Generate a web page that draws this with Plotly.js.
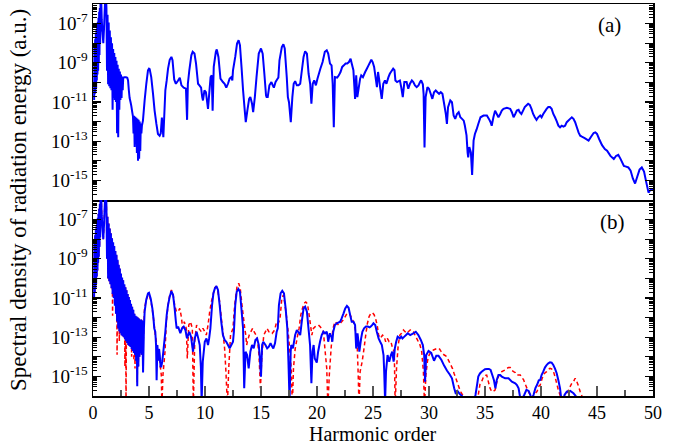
<!DOCTYPE html>
<html><head><meta charset="utf-8">
<script src="https://cdn.plot.ly/plotly-3.0.1.min.js"></script>
<style>html,body{margin:0;padding:0;background:#fff}#chart{width:679px;height:446px}</style>
</head><body><div id="chart"></div>
<script>
// Values: [harmonic order, log10(spectral density in a.u.)]
const panelA = [[0.10,-10.9],[0.13,-8.0],[0.16,-10.6],[0.19,-7.8],[0.22,-10.5],[0.25,-7.5],[0.28,-10.3],[0.31,-7.3],[0.34,-9.9],[0.37,-7.1],[0.40,-9.6],[0.43,-6.9],[0.46,-9.4],[0.49,-6.7],[0.52,-9.0],[0.55,-6.4],[0.58,-8.6],[0.61,-6.2],[0.64,-8.0],[0.67,-5.9],[0.70,-7.4],[0.73,-5.7],[0.78,-6.8],[0.85,-7.5],[0.92,-8.0],[0.98,-7.3],[1.04,-6.4],[1.10,-5.6],[1.16,-5.6],
[1.20,-6.2],[1.25,-9.4],[1.30,-6.55],[1.35,-10.1],[1.40,-6.95],[1.45,-10.2],[1.50,-7.35],[1.55,-10.3],[1.60,-7.7],[1.65,-10.4],[1.70,-8.0],[1.75,-11.4],[1.80,-8.3],[1.85,-10.8],[1.90,-8.5],[1.95,-10.9],[2.00,-8.7],[2.05,-11.0],[2.10,-8.9],[2.15,-12.6],[2.20,-9.1],[2.25,-12.8],[2.30,-9.3],[2.35,-11.4],[2.40,-9.45],[2.45,-10.9],[2.50,-9.6],[2.55,-10.8],[2.60,-9.7],[2.65,-10.4],[2.70,-9.76],
[2.8,-9.74],[2.95,-9.74],[3.06,-9.76],[3.13,-9.9],[3.2,-10.4],[3.27,-10.8],[3.35,-11.0],[3.42,-11.2],[3.5,-11.5],[3.57,-11.75],
[3.62,-12.6],[3.67,-11.7],[3.72,-13.3],[3.77,-11.75],[3.82,-12.9],[3.87,-11.8],[3.92,-13.6],[3.97,-11.85],[4.02,-14.0],[4.07,-11.9],[4.12,-13.9],[4.17,-12.0],[4.22,-13.5],[4.27,-12.1],[4.32,-12.6],[4.37,-12.2],
[4.46,-11.95],[4.61,-10.92],[4.76,-10.07],[4.91,-9.38],[5.0,-9.3],[5.06,-9.32],[5.2,-9.73],[5.36,-10.58],[5.5,-11.44],[5.66,-12.12],[5.8,-12.63],[5.95,-12.72],[6.05,-12.6],[6.15,-11.8],[6.28,-12.8],[6.46,-10.4],[6.58,-9.9],[6.7,-9.3],[6.85,-8.85],[7.0,-8.7],[7.1,-8.87],[7.25,-9.85],[7.4,-10.07],[7.6,-9.9],[7.75,-9.76],[7.9,-10.15],[8.1,-10.27],[8.3,-10.32],[8.4,-11.91],[8.47,-10.07],[8.6,-9.38],[8.78,-8.62],[8.9,-8.44],[9.06,-8.53],[9.2,-9.04],[9.38,-10.07],[9.5,-10.15],[9.65,-10.27],[9.75,-10.75],[9.82,-10.92],[9.95,-10.41],[10.08,-10.5],[10.27,-11.35],[10.4,-10.41],[10.5,-9.73],[10.6,-9.64],[10.68,-11.44],[10.78,-9.21],[10.97,-8.44],[11.05,-8.32],[11.2,-8.7],[11.38,-9.81],[11.6,-9.98],[11.75,-10.07],[11.9,-10.27],[12.05,-10.07],[12.2,-9.81],[12.36,-9.73],[12.44,-9.9],[12.5,-9.38],[12.7,-8.7],[12.86,-8.02],[13.0,-7.85],[13.12,-8.1],[13.26,-9.21],[13.4,-10.41],[13.55,-11.44],[13.64,-12.03],[13.78,-11.44],[13.94,-10.84],[14.05,-10.75],[14.2,-11.09],[14.3,-11.52],[14.45,-10.75],[14.6,-9.73],[14.8,-8.53],[15.0,-8.27],[15.15,-8.53],[15.3,-9.56],[15.45,-10.67],[15.5,-10.75],[15.6,-10.75],[15.75,-10.15],[15.93,-9.98],[16.05,-10.15],[16.15,-10.27],[16.3,-9.98],[16.45,-9.84],[16.55,-9.76],[16.65,-8.87],[16.86,-8.2],[17.0,-8.05],[17.12,-8.27],[17.3,-9.73],[17.4,-10.75],[17.5,-11.01],[17.66,-12.03],[17.8,-10.75],[17.92,-10.07],[18.05,-9.94],[18.2,-10.15],[18.35,-10.15],[18.5,-10.07],[18.65,-9.38],[18.8,-8.7],[18.94,-8.41],[19.1,-8.53],[19.25,-9.56],[19.39,-10.07],[19.5,-11.09],[19.62,-10.07],[19.75,-9.9],[19.9,-10.15],[20.04,-9.81],[20.3,-9.3],[20.5,-8.96],[20.7,-8.44],[20.87,-8.36],[21.0,-8.53],[21.16,-9.04],[21.3,-9.13],[21.4,-10.07],[21.5,-12.29],[21.6,-9.73],[21.8,-9.76],[21.95,-9.64],[22.1,-9.47],[22.25,-9.21],[22.4,-9.13],[22.55,-9.04],[22.7,-9.04],[22.85,-8.96],[23.0,-8.79],[23.1,-9.04],[23.25,-9.38],[23.4,-10.84],[23.5,-9.64],[23.6,-10.75],[23.85,-9.81],[23.95,-9.64],[24.1,-9.73],[24.3,-9.47],[24.45,-9.3],[24.6,-9.13],[24.75,-8.96],[24.85,-8.84],[24.97,-8.96],[25.1,-9.21],[25.35,-10.24],[25.45,-9.47],[25.54,-9.81],[25.65,-10.32],[25.78,-10.84],[25.92,-10.07],[26.07,-9.9],[26.2,-10.07],[26.38,-9.73],[26.5,-9.56],[26.6,-9.47],[26.8,-9.3],[26.92,-9.38],[27.0,-9.9],[27.15,-9.98],[27.4,-9.9],[27.52,-10.24],[27.66,-10.75],[27.8,-9.98],[28.0,-9.98],[28.15,-10.32],[28.3,-10.07],[28.47,-9.9],[28.6,-9.98],[28.75,-10.15],[28.9,-10.24],[29.06,-10.15],[29.2,-9.98],[29.3,-9.9],[29.45,-10.1],[29.52,-10.6],[29.6,-13.32],[29.7,-10.75],[29.86,-10.24],[30.0,-10.32],[30.15,-10.58],[30.3,-10.84],[30.45,-10.5],[30.6,-10.41],[30.75,-10.5],[30.9,-10.58],[31.05,-10.5],[31.2,-10.58],[31.35,-11.09],[31.5,-11.61],[31.6,-12.12],[31.7,-11.26],[31.9,-10.92],[32.05,-11.01],[32.2,-11.69],[32.34,-11.86],[32.5,-11.61],[32.65,-11.52],[32.8,-11.78],[32.95,-11.86],[33.1,-11.95],[33.2,-12.2],[33.35,-12.7],[33.45,-13.6],[33.5,-13.83],[33.6,-13.3],[33.74,-13.57],[33.85,-14.72],[33.98,-12.97],[34.1,-12.63],[34.25,-12.4],[34.4,-12.12],[34.6,-11.78],[34.87,-11.69],[35.17,-11.69],[35.35,-11.86],[35.5,-12.03],[35.6,-12.21],[35.75,-11.78],[35.9,-11.44],[36.05,-11.61],[36.2,-11.78],[36.36,-11.61],[36.5,-11.44],[36.65,-11.35],[36.95,-11.3],[37.25,-11.35],[37.4,-11.52],[37.55,-11.78],[37.7,-11.61],[37.84,-11.44],[38.0,-11.4],[38.1,-11.52],[38.25,-11.61],[38.4,-11.44],[38.55,-11.26],[38.74,-11.15],[38.85,-11.09],[39.0,-11.15],[39.15,-11.35],[39.3,-11.61],[39.45,-11.78],[39.6,-11.91],[39.75,-11.78],[39.93,-11.69],[40.05,-11.78],[40.2,-11.61],[40.5,-11.35],[40.65,-11.26],[40.8,-11.26],[40.95,-11.35],[41.1,-11.61],[41.25,-11.78],[41.4,-11.98],[41.55,-12.21],[41.7,-12.29],[41.85,-12.21],[42.0,-12.26],[42.15,-12.21],[42.3,-12.03],[42.6,-11.86],[42.75,-11.78],[42.9,-11.86],[43.05,-12.03],[43.2,-12.29],[43.35,-12.55],[43.5,-12.72],[43.65,-12.77],[43.9,-12.84],[44.25,-12.97],[44.5,-12.75],[44.7,-12.58],[44.85,-12.55],[45.0,-12.63],[45.2,-12.9],[45.45,-13.2],[45.7,-13.4],[45.9,-13.49],[46.2,-13.75],[46.5,-13.91],[46.7,-13.75],[46.9,-13.69],[47.1,-13.9],[47.4,-14.26],[47.6,-14.3],[47.8,-14.34],[48.0,-14.5],[48.2,-14.9],[48.4,-15.16],[48.6,-14.8],[48.8,-14.45],[49.0,-14.34],[49.2,-14.55],[49.4,-15.1],[49.6,-15.62],[49.75,-15.5],[49.9,-15.45],[50.0,-15.5]];

const panelBsolid = [[0.10,-11.0],[0.13,-8.0],[0.16,-10.7],[0.19,-7.8],[0.22,-10.5],[0.25,-7.55],[0.28,-10.3],[0.31,-7.35],[0.34,-9.9],[0.37,-7.1],[0.40,-9.6],[0.43,-6.9],[0.46,-9.2],[0.49,-6.7],[0.52,-8.9],[0.55,-6.45],[0.58,-8.4],[0.61,-6.2],[0.64,-7.9],[0.67,-5.9],[0.70,-7.3],[0.73,-5.7],[0.78,-6.8],[0.85,-7.5],[0.92,-8.0],[0.98,-7.3],[1.04,-6.4],[1.10,-5.6],[1.16,-5.6],
[1.20,-6.3],[1.25,-9.0],[1.30,-6.85],[1.35,-10.0],[1.40,-7.2],[1.45,-10.15],[1.50,-7.45],[1.55,-10.3],[1.60,-7.7],[1.65,-10.5],[1.70,-7.95],[1.75,-10.8],[1.80,-8.15],[1.85,-11.0],[1.90,-8.35],[1.95,-11.4],[2.00,-8.6],[2.05,-11.8],[2.10,-8.8],[2.15,-12.2],[2.20,-9.05],[2.25,-12.55],[2.30,-9.3],[2.35,-12.7],[2.40,-9.5],[2.45,-12.8],[2.50,-9.75],[2.55,-12.9],[2.60,-9.95],[2.65,-12.95],[2.70,-10.1],[2.75,-13.0],[2.80,-10.3],[2.85,-13.1],[2.90,-10.45],[2.95,-13.2],[3.00,-10.6],[3.05,-13.3],[3.10,-10.8],[3.15,-13.4],[3.20,-10.95],[3.25,-13.45],[3.30,-11.1],[3.35,-13.5],[3.40,-11.3],[3.45,-13.6],[3.50,-11.45],[3.55,-13.7],[3.60,-11.6],[3.65,-13.8],[3.70,-11.8],[3.75,-13.9],[3.80,-11.9],[3.85,-14.2],[3.90,-11.95],[3.95,-15.5],[4.00,-12.0],[4.05,-14.5],[4.10,-12.05],[4.15,-14.0],[4.20,-12.1],[4.25,-13.8],[4.30,-12.1],[4.35,-13.9],[4.40,-12.15],
[4.47,-14.8],[4.55,-12.5],[4.61,-11.7],[4.75,-11.1],[4.91,-10.76],[5.0,-10.73],[5.15,-11.02],[5.3,-11.53],[5.4,-12.04],[5.47,-12.55],[5.56,-12.72],[5.63,-13.4],[5.68,-15.2],[5.75,-13.4],[5.82,-14.2],[5.9,-13.6],[5.96,-13.91],[6.03,-14.5],[6.1,-14.5],[6.18,-14.25],[6.28,-13.74],[6.46,-12.72],[6.58,-11.87],[6.7,-11.36],[6.85,-10.93],[7.0,-10.65],[7.15,-10.85],[7.29,-11.53],[7.4,-12.2],[7.47,-12.55],[7.6,-12.46],[7.8,-12.8],[7.95,-12.55],[8.1,-12.46],[8.25,-12.63],[8.4,-13.06],[8.5,-12.89],[8.6,-12.72],[8.75,-12.97],[8.93,-13.74],[9.08,-13.06],[9.25,-12.72],[9.4,-13.06],[9.53,-13.4],[9.63,-14.5],[9.7,-16.3],[9.8,-14.25],[9.98,-13.23],[10.13,-13.06],[10.27,-13.4],[10.37,-13.06],[10.48,-12.55],[10.63,-11.36],[10.75,-10.76],[10.88,-10.51],[11.02,-10.39],[11.16,-10.59],[11.31,-11.36],[11.45,-12.21],[11.6,-12.89],[11.75,-13.14],[11.9,-13.23],[12.05,-13.4],[12.2,-13.57],[12.35,-13.4],[12.5,-13.23],[12.58,-12.72],[12.7,-11.36],[12.83,-10.68],[12.98,-10.54],[13.12,-10.68],[13.25,-11.53],[13.4,-12.55],[13.5,-15.6],[13.62,-13.74],[13.76,-13.91],[13.9,-14.59],[14.05,-13.74],[14.2,-13.4],[14.35,-13.57],[14.5,-13.14],[14.65,-13.06],[14.8,-13.4],[14.9,-14.08],[15.0,-15.01],[15.1,-13.4],[15.2,-13.23],[15.4,-13.4],[15.55,-13.57],[15.7,-13.48],[15.85,-13.31],[16.0,-13.48],[16.1,-13.57],[16.25,-13.31],[16.4,-12.72],[16.5,-12.55],[16.6,-11.36],[16.75,-10.76],[16.9,-10.63],[17.05,-10.76],[17.2,-11.53],[17.35,-12.55],[17.45,-14.25],[17.55,-16.3],[17.65,-13.74],[17.7,-13.4],[17.85,-13.57],[18.05,-12.89],[18.2,-12.63],[18.4,-12.8],[18.5,-12.89],[18.64,-12.21],[18.8,-11.53],[18.94,-11.44],[19.1,-11.7],[19.24,-12.55],[19.38,-13.4],[19.5,-15.35],[19.6,-13.74],[19.7,-13.4],[19.8,-14.08],[19.98,-14.3],[20.1,-13.74],[20.27,-13.23],[20.42,-12.89],[20.57,-12.72],[20.72,-12.8],[20.87,-12.72],[20.95,-12.97],[21.0,-13.23],[21.15,-12.8],[21.3,-13.0],[21.37,-13.23],[21.45,-12.72],[21.6,-12.38],[21.77,-12.29],[22.07,-12.21],[22.2,-12.04],[22.37,-11.78],[22.52,-11.53],[22.67,-11.4],[22.82,-11.5],[22.96,-11.87],[23.1,-12.21],[23.26,-12.21],[23.4,-12.38],[23.5,-13.57],[23.58,-13.4],[23.62,-12.8],[23.7,-13.23],[23.78,-13.74],[23.94,-13.06],[24.05,-12.72],[24.2,-12.55],[24.37,-12.46],[24.54,-12.46],[24.7,-12.5],[24.8,-12.46],[24.92,-12.38],[25.04,-12.29],[25.2,-12.38],[25.34,-12.72],[25.5,-13.06],[25.64,-13.23],[25.79,-13.4],[25.94,-13.91],[26.0,-14.76],[26.08,-16.3],[26.16,-14.76],[26.3,-13.91],[26.45,-14.25],[26.6,-13.91],[26.72,-13.74],[26.84,-14.25],[26.95,-13.57],[27.07,-13.23],[27.2,-12.97],[27.4,-13.06],[27.52,-12.97],[27.63,-13.06],[27.8,-12.97],[27.95,-12.89],[28.1,-12.8],[28.32,-12.89],[28.6,-12.8],[28.82,-12.72],[29.05,-12.89],[29.27,-13.14],[29.45,-13.4],[29.57,-13.91],[29.65,-15.27],[29.75,-13.91],[29.96,-13.7],[30.2,-13.8],[30.45,-14.2],[30.65,-13.95],[30.85,-13.95],[31.1,-14.15],[31.35,-14.45],[31.6,-14.7],[31.85,-14.9],[32.05,-15.1],[32.25,-15.6],[32.4,-15.9],[32.55,-15.75],[32.75,-15.9],[32.95,-16.0],[33.1,-16.3],[33.5,-17.0],[34.05,-16.2],[34.15,-15.95],[34.3,-15.4],[34.4,-15.01],[34.55,-14.85],[34.7,-14.76],[35.0,-14.63],[35.17,-14.62],[35.35,-14.62],[35.5,-14.67],[35.65,-14.93],[35.8,-15.2],[35.93,-15.61],[36.05,-15.18],[36.2,-14.93],[36.35,-14.93],[36.5,-15.01],[36.8,-15.1],[37.1,-15.1],[37.4,-15.27],[37.7,-15.35],[37.85,-15.44],[38.0,-15.61],[38.1,-15.95],[38.2,-16.3],[38.35,-16.1],[38.5,-15.95],[38.7,-15.69],[38.9,-15.74],[39.05,-15.95],[39.15,-16.2],[39.33,-15.95],[39.5,-15.6],[39.64,-15.44],[39.8,-15.2],[39.93,-15.18],[40.05,-14.93],[40.2,-14.76],[40.35,-14.55],[40.5,-14.42],[40.65,-14.33],[40.8,-14.28],[40.95,-14.3],[41.1,-14.42],[41.25,-14.6],[41.4,-14.84],[41.55,-15.2],[41.7,-15.61],[41.8,-16.1],[41.95,-16.3],[42.1,-15.95],[42.3,-15.78],[42.6,-15.74],[42.9,-15.86],[43.1,-16.0],[43.25,-16.3],[43.5,-17.0]];

const panelBdashed = [[0.10,-11.0],[0.13,-8.1],[0.16,-10.7],[0.19,-7.8],[0.22,-10.5],[0.25,-7.55],[0.28,-10.3],[0.31,-7.35],[0.34,-9.9],[0.37,-7.1],[0.40,-9.6],[0.43,-6.9],[0.46,-9.2],[0.49,-6.7],[0.52,-8.9],[0.55,-6.45],[0.58,-8.4],[0.61,-6.2],[0.64,-7.9],[0.67,-5.9],[0.70,-7.3],[0.73,-5.7],[0.78,-6.8],[0.85,-7.5],[0.92,-8.0],[0.98,-7.3],[1.04,-6.4],[1.10,-5.6],[1.16,-5.6],
[1.20,-6.3],[1.25,-9.0],[1.30,-6.85],[1.35,-10.0],[1.40,-7.2],[1.45,-10.15],[1.50,-7.45],[1.55,-10.3],[1.60,-7.7],[1.65,-10.5],[1.70,-7.95],[1.75,-11.9],[1.80,-8.15],[1.85,-11.0],[1.90,-8.35],[1.95,-11.4],[2.00,-8.6],[2.05,-11.8],[2.10,-8.8],[2.15,-13.9],[2.20,-9.05],[2.25,-12.55],[2.30,-9.3],[2.35,-13.2],[2.40,-9.5],[2.45,-12.8],[2.50,-9.75],[2.55,-12.9],[2.60,-9.95],[2.65,-12.95],[2.70,-10.1],[2.75,-13.0],[2.80,-10.3],[2.85,-14.5],[2.90,-10.45],[2.95,-16.5],[3.00,-10.6],[3.05,-13.3],[3.10,-10.8],[3.15,-13.4],[3.20,-10.95],[3.25,-13.45],[3.30,-11.1],[3.35,-13.5],[3.40,-11.3],[3.45,-14.0],[3.50,-11.45],[3.55,-13.7],[3.60,-11.6],[3.65,-14.2],[3.70,-11.8],[3.75,-14.6],[3.80,-11.9],[3.85,-14.2],[3.90,-11.95],[3.95,-15.3],[4.00,-12.0],[4.05,-14.5],[4.10,-12.05],[4.15,-14.0],[4.20,-12.1],[4.25,-13.8],[4.30,-12.1],[4.35,-13.9],[4.40,-12.15],
[4.47,-13.5],[4.6,-11.53],[4.75,-11.1],[4.91,-10.85],[5.0,-10.85],[5.15,-11.1],[5.3,-11.6],[5.47,-12.38],[5.56,-12.89],[5.8,-13.74],[5.96,-14.25],[6.1,-14.93],[6.15,-16.5],[6.25,-14.9],[6.43,-13.74],[6.55,-12.2],[6.7,-11.36],[6.85,-10.85],[7.0,-10.59],[7.15,-10.8],[7.29,-11.36],[7.45,-11.7],[7.6,-11.7],[7.75,-11.53],[7.9,-12.0],[8.0,-12.55],[8.15,-12.21],[8.33,-12.55],[8.42,-14.08],[8.55,-12.38],[8.7,-12.21],[8.87,-12.55],[8.96,-16.5],[9.08,-13.2],[9.25,-12.38],[9.45,-12.55],[9.67,-12.72],[9.82,-12.55],[9.98,-12.72],[10.12,-12.89],[10.27,-12.38],[10.42,-11.7],[10.57,-11.19],[10.72,-10.85],[10.87,-10.47],[11.0,-10.42],[11.15,-10.68],[11.31,-11.19],[11.46,-12.04],[11.6,-12.72],[11.75,-13.57],[11.87,-14.76],[12.0,-16.5],[12.12,-14.59],[12.28,-12.89],[12.5,-12.55],[12.6,-11.7],[12.72,-11.02],[12.86,-10.42],[13.01,-10.25],[13.15,-10.51],[13.3,-11.36],[13.55,-12.55],[13.64,-12.89],[13.72,-13.4],[13.78,-13.23],[13.95,-12.89],[14.1,-12.72],[14.25,-12.55],[14.38,-12.72],[14.55,-12.89],[14.7,-13.23],[14.82,-13.91],[14.95,-15.6],[15.08,-13.91],[15.25,-12.89],[15.4,-12.72],[15.54,-12.55],[15.7,-12.72],[15.85,-12.72],[16.0,-12.8],[16.14,-12.7],[16.25,-12.55],[16.4,-12.21],[16.55,-12.29],[16.7,-12.04],[16.86,-11.02],[17.0,-10.85],[17.1,-11.19],[17.3,-12.04],[17.45,-12.89],[17.6,-13.91],[17.7,-14.59],[17.8,-16.5],[17.9,-14.59],[18.05,-13.6],[18.25,-12.97],[18.4,-12.55],[18.55,-11.87],[18.7,-11.53],[18.85,-11.27],[19.0,-11.2],[19.15,-11.3],[19.3,-11.87],[19.42,-12.38],[19.54,-12.89],[19.68,-12.55],[19.84,-12.46],[19.98,-12.42],[20.13,-12.38],[20.27,-12.46],[20.4,-12.55],[20.57,-12.72],[20.73,-13.74],[20.87,-14.59],[20.97,-16.5],[21.1,-14.93],[21.26,-13.57],[21.36,-12.89],[21.43,-12.55],[21.6,-12.21],[21.77,-12.29],[21.92,-12.38],[22.07,-12.29],[22.22,-12.2],[22.37,-12.1],[22.52,-11.95],[22.67,-11.8],[22.8,-11.78],[22.96,-11.85],[23.1,-12.04],[23.26,-12.21],[23.4,-12.55],[23.56,-13.06],[23.62,-13.91],[23.68,-14.93],[23.75,-16.5],[23.85,-14.76],[24.03,-14.25],[24.2,-13.57],[24.35,-12.89],[24.5,-12.3],[24.65,-11.95],[24.8,-11.8],[24.95,-11.75],[25.1,-11.85],[25.25,-12.1],[25.38,-12.4],[25.5,-12.89],[25.66,-13.06],[25.85,-12.89],[26.0,-12.97],[26.13,-13.23],[26.28,-13.06],[26.44,-13.23],[26.6,-13.23],[26.75,-13.57],[26.9,-13.74],[26.98,-16.5],[27.1,-14.59],[27.25,-13.4],[27.4,-12.89],[27.55,-12.8],[27.72,-12.63],[27.87,-12.72],[28.0,-12.8],[28.15,-12.72],[28.32,-12.63],[28.47,-12.72],[28.6,-12.72],[28.75,-12.89],[28.9,-13.06],[29.05,-13.23],[29.2,-13.4],[29.35,-13.74],[29.5,-14.76],[29.6,-16.5],[29.72,-14.93],[29.87,-14.2],[30.02,-13.9],[30.2,-13.74],[30.4,-13.65],[30.6,-13.6],[30.75,-13.57],[30.9,-13.57],[31.05,-13.7],[31.2,-13.82],[31.36,-13.91],[31.5,-13.95],[31.65,-14.08],[31.8,-14.25],[31.95,-14.42],[32.1,-14.6],[32.24,-14.85],[32.4,-15.1],[32.55,-15.35],[32.7,-15.6],[32.85,-15.8],[33.0,-15.95],[33.15,-16.5],[33.8,-17.0],[34.4,-15.95],[34.55,-15.4],[34.7,-15.27],[34.85,-15.05],[35.0,-14.95],[35.15,-14.93],[35.3,-15.27],[35.45,-15.6],[35.6,-15.78],[35.75,-15.75],[35.9,-15.7],[36.05,-15.3],[36.2,-15.01],[36.5,-14.76],[36.8,-14.67],[36.95,-14.59],[37.1,-14.55],[37.25,-14.55],[37.4,-14.7],[37.55,-14.76],[37.7,-14.8],[37.85,-14.93],[38.15,-14.93],[38.45,-15.18],[38.6,-15.4],[38.75,-15.61],[38.9,-15.8],[39.04,-15.95],[39.2,-16.1],[39.35,-15.95],[39.5,-15.85],[39.64,-15.78],[39.8,-15.5],[39.93,-15.44],[40.1,-15.1],[40.3,-14.85],[40.5,-14.76],[40.65,-14.65],[40.8,-14.59],[40.95,-14.62],[41.12,-14.76],[41.25,-15.01],[41.4,-15.35],[41.55,-15.7],[41.7,-15.95],[41.85,-16.3],[42.0,-16.3],[42.15,-16.0],[42.3,-15.86],[42.45,-15.7],[42.6,-15.52],[42.75,-15.35],[42.9,-15.27],[43.05,-15.1],[43.2,-15.27],[43.35,-15.5],[43.5,-15.78],[43.65,-16.0],[43.8,-16.5]];

const xTickVals = [0,5,10,15,20,25,30,35,40,45,50];
const xTickText = ['0','5','10','15','20','25','30','35','40','45','50'];
const yTickExps = [-16,-15,-14,-13,-12,-11,-10,-9,-8,-7,-6];
const yTickText = ['','10<sup>-15</sup>','','10<sup>-13</sup>','','10<sup>-11</sup>','','10<sup>-9</sup>','','10<sup>-7</sup>',''];
const panelLabels = ['(a)','(b)'];
const yTitle = 'Spectral density of radiation energy (a.u.)';
const xTitle = 'Harmonic order';

const px = p => p.map(d => d[0]);
const py = p => p.map(d => Math.pow(10, d[1]));
const yTickVals = yTickExps.map(e => Math.pow(10, e));
const minorY = [];
for (let e = -16; e < -6; e++) for (let k = 2; k <= 9; k++) minorY.push(k * Math.pow(10, e));
const minorX = [2.5,7.5,12.5,17.5,22.5,27.5,32.5,37.5,42.5,47.5];

const FONT = 'Liberation Serif';
const yBase = {
  type:'log', range:[-16,-6], tickmode:'array', tickvals:yTickVals, ticktext:yTickText,
  ticks:'inside', ticklen:8, tickwidth:1.3, tickcolor:'#000',
  showline:true, linecolor:'#000', linewidth:1.5, mirror:'ticks',
  showgrid:false, zeroline:false,
  tickfont:{family:FONT, size:19, color:'#000'},
  minor:{tickmode:'array', tickvals:minorY, ticks:'inside', ticklen:4, tickwidth:1, tickcolor:'#000', showgrid:false}
};

const traces = [
  {x:px(panelA), y:py(panelA), xaxis:'x', yaxis:'y', mode:'lines', line:{color:'#0000ff', width:2, simplify:false}, hoverinfo:'skip'},
  {x:px(panelBdashed), y:py(panelBdashed), xaxis:'x2', yaxis:'y2', mode:'lines', line:{color:'#ff0000', width:1.5, dash:'4px,3px', simplify:false}, hoverinfo:'skip'},
  {x:px(panelBsolid), y:py(panelBsolid), xaxis:'x2', yaxis:'y2', mode:'lines', line:{color:'#0000ff', width:2, simplify:false}, hoverinfo:'skip'}
];

const layout = {
  width:679, height:446, margin:{l:93, r:26, t:4, b:50},
  paper_bgcolor:'#fff', plot_bgcolor:'#fff', showlegend:false,
  font:{family:FONT, color:'#000'},
  xaxis:{domain:[0,1], anchor:'y', range:[0,50], showticklabels:false, ticks:'', showline:true, mirror:true, linecolor:'#000', linewidth:1.5, showgrid:false, zeroline:false},
  yaxis:Object.assign({}, yBase, {domain:[0.5,1], anchor:'x'}),
  xaxis2:{domain:[0,1], anchor:'y2', range:[0,50], tickmode:'array', tickvals:xTickVals, ticktext:xTickText,
    ticks:'inside', ticklen:10, tickwidth:1.5, tickcolor:'#555',
    minor:{tickmode:'array', tickvals:minorX, ticks:'inside', ticklen:6, tickwidth:1.5, tickcolor:'#555', showgrid:false},
    showline:true, mirror:false, linecolor:'#000', linewidth:1.5, showgrid:false, zeroline:false,
    tickfont:{family:FONT, size:18, color:'#000'}},
  yaxis2:Object.assign({}, yBase, {domain:[0,0.5], anchor:'x2'}),
  annotations:[
    {xref:'paper', yref:'paper', x:0.923, y:0.946, xanchor:'center', yanchor:'middle', text:panelLabels[0], showarrow:false, font:{family:FONT, size:21, color:'#000'}},
    {xref:'paper', yref:'paper', x:0.927, y:0.444, xanchor:'center', yanchor:'middle', text:panelLabels[1], showarrow:false, font:{family:FONT, size:21, color:'#000'}},
    {xref:'paper', yref:'paper', x:-0.134, y:0.5, xanchor:'center', yanchor:'middle', text:yTitle, textangle:-90, showarrow:false, font:{family:FONT, size:23, color:'#000'}},
    {xref:'paper', yref:'paper', x:0.5, y:-0.0969, xanchor:'center', yanchor:'middle', text:xTitle, showarrow:false, font:{family:FONT, size:20, color:'#000'}}
  ]
};

Plotly.newPlot('chart', traces, layout, {staticPlot:true, displayModeBar:false});
</script>
</body></html>
